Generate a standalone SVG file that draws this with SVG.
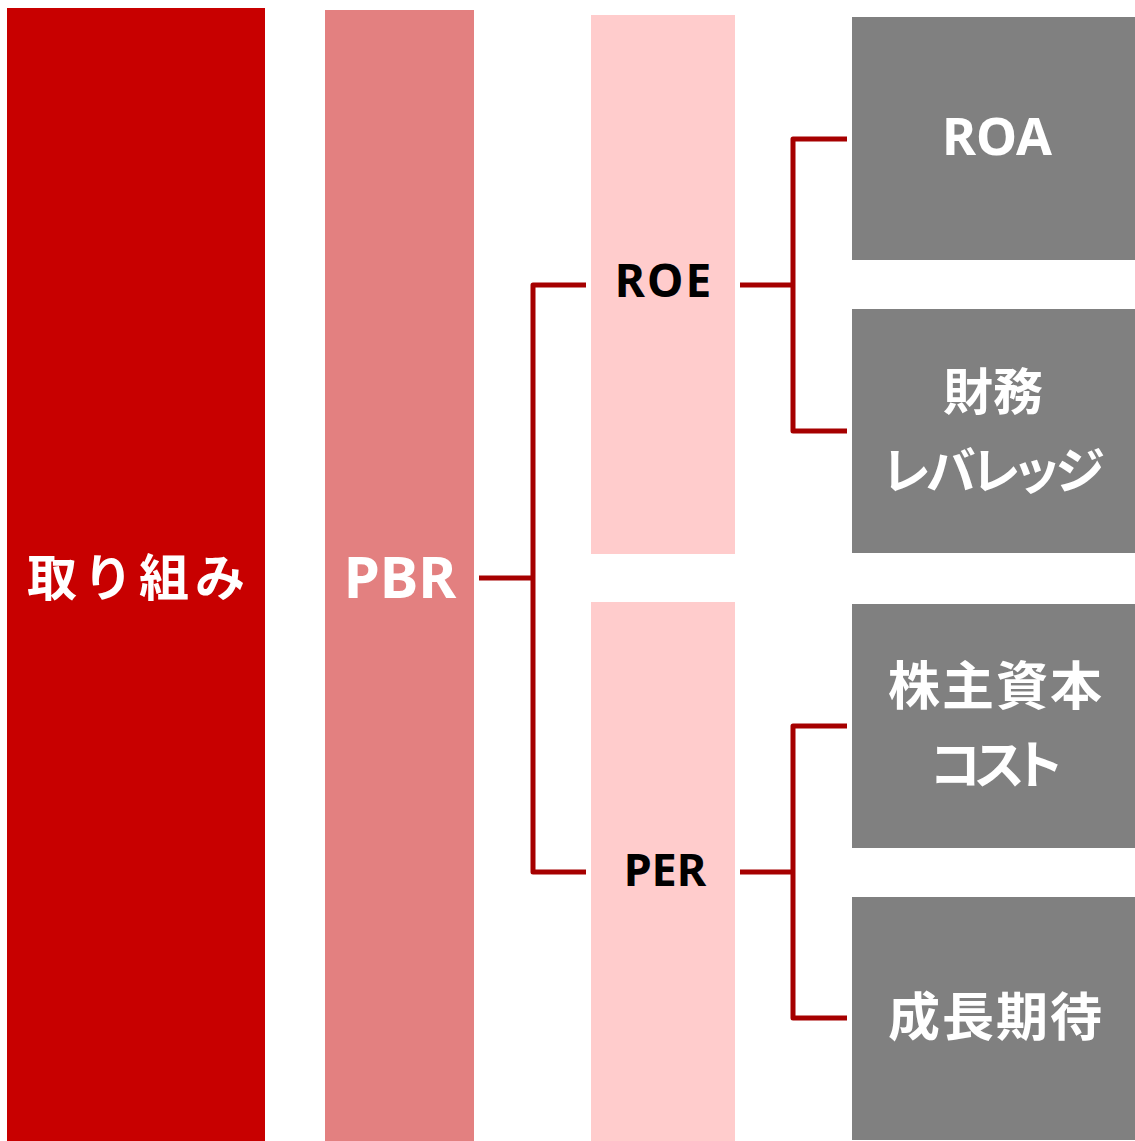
<svg xmlns="http://www.w3.org/2000/svg" width="1135" height="1141" viewBox="0 0 1135 1141">
<style>
.lat{font-family:"Noto Sans","DejaVu Sans",sans-serif;font-weight:bold;text-anchor:middle}
.jp{font-family:"Noto Sans CJK JP",sans-serif;font-weight:bold;text-anchor:middle;fill:#fff}
.palt{font-feature-settings:"palt"}
.conn{fill:none;stroke:#A60000;stroke-width:5;stroke-linejoin:round}
</style>
<rect width="1135" height="1141" fill="#fff"/>
<g id="node-torikumi">
<rect x="7" y="8" width="258" height="1133" fill="#C80000"/>
<text class="jp" x="139" y="596" font-size="50" letter-spacing="6">取り組み</text>
</g>
<g id="node-pbr">
<rect x="325" y="10" width="149" height="1131" fill="#E38080"/>
<text class="lat" x="400" y="598" font-size="58" fill="#fff">PBR</text>
</g>
<g id="node-roe">
<rect x="591" y="15" width="144" height="539" fill="#FFCCCC"/>
<text class="lat" x="664" y="297" font-size="46" letter-spacing="2" fill="#000">ROE</text>
</g>
<g id="node-per">
<rect x="591" y="602" width="144" height="539" fill="#FFCCCC"/>
<text class="lat" x="665" y="886" font-size="45" fill="#000">PER</text>
</g>
<g id="node-roa">
<rect x="852" y="17" width="283" height="243" fill="#808080"/>
<text class="lat" x="997" y="155" font-size="52" fill="#fff">ROA</text>
</g>
<g id="node-leverage">
<rect x="852" y="309" width="283" height="244" fill="#808080"/>
<text class="jp" x="993" y="410" font-size="50">財務</text>
<text class="jp palt" x="992" y="489" font-size="50" letter-spacing="-3">レバレッジ</text>
</g>
<g id="node-cost">
<rect x="852" y="604" width="283" height="244" fill="#808080"/>
<text class="jp" x="996" y="705" font-size="52" letter-spacing="2">株主資本</text>
<text class="jp palt" x="993" y="784" font-size="52" letter-spacing="-6">コスト</text>
</g>
<g id="node-growth">
<rect x="852" y="897" width="283" height="243" fill="#808080"/>
<text class="jp" x="996" y="1036" font-size="52" letter-spacing="2">成長期待</text>
</g>
<g id="connectors">
<path class="conn" d="M479 578H533"/>
<path class="conn" d="M586 285H533V872H586"/>
<path class="conn" d="M740 285H793"/>
<path class="conn" d="M847 139H793V431H847"/>
<path class="conn" d="M740 872H793"/>
<path class="conn" d="M847 726H793V1018H847"/>
</g>
</svg>
